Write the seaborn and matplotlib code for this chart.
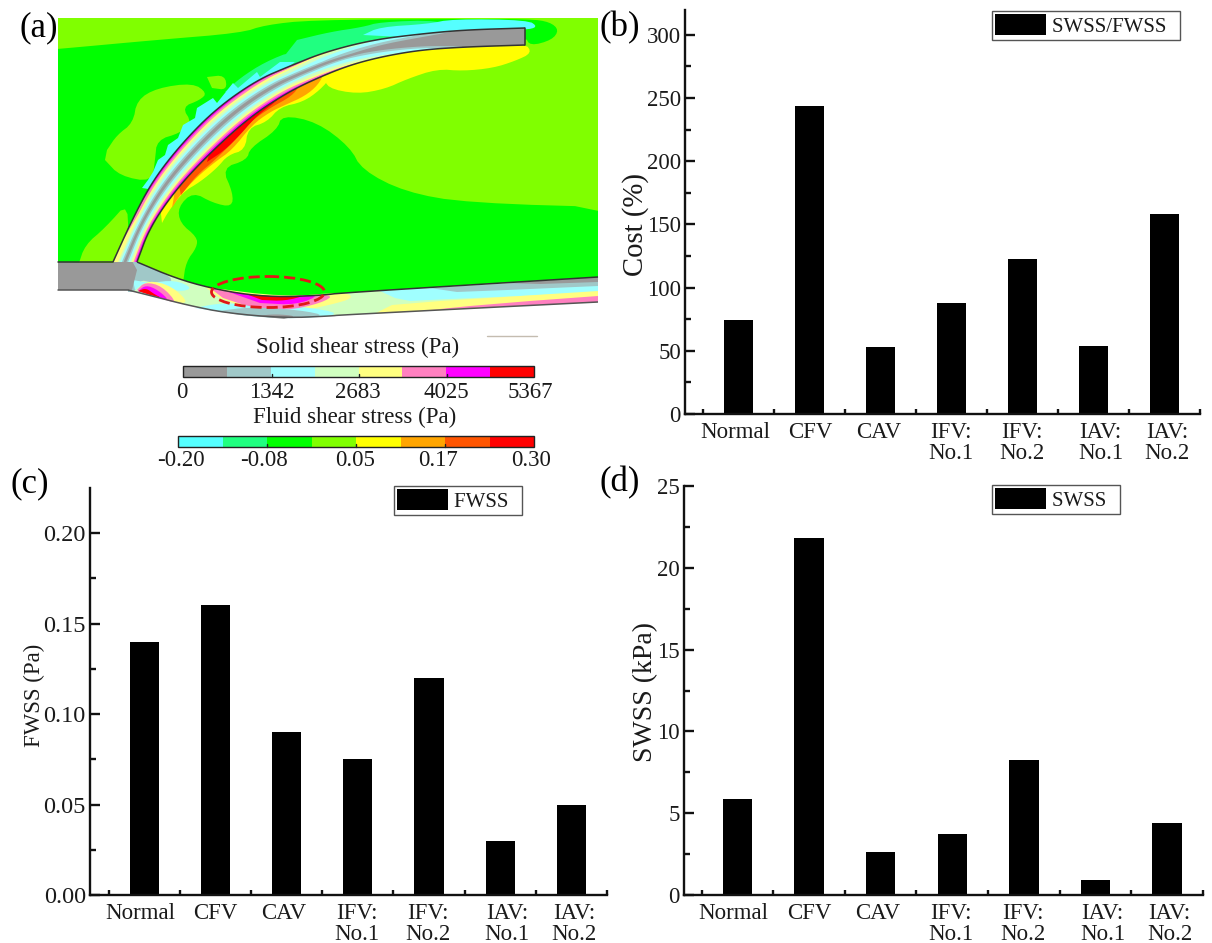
import numpy as np
import matplotlib
matplotlib.use("Agg")
import matplotlib.pyplot as plt
from matplotlib.patches import Polygon, Rectangle, Ellipse
from matplotlib.ticker import MultipleLocator, FormatStrFormatter
from matplotlib.transforms import ScaledTranslation
import seaborn as sns

# ---------- data ----------
categories = ["Normal", "CFV", "CAV", "IFV:\nNo.1", "IFV:\nNo.2", "IAV:\nNo.1", "IAV:\nNo.2"]
cost_values = [74, 244, 53, 88, 123, 54, 158]
fwss_values = [0.14, 0.16, 0.09, 0.075, 0.12, 0.03, 0.05]
swss_values = [5.85, 21.85, 2.65, 3.7, 8.25, 0.9, 4.4]
solid_colors = ["#999999", "#a0c8c8", "#a0ffff", "#d0ffc0", "#ffff80", "#ff80c0", "#ff00ff", "#ff0000"]
fluid_colors = ["#55ffff", "#20ff80", "#00ff00", "#80ff00", "#ffff00", "#ffa500", "#ff5500", "#ff0000"]
solid_labels = ["0", "1342", "2683", "4025", "5367"]
fluid_labels = ["-0.20", "-0.08", "0.05", "0.17", "0.30"]

W, H = 1212, 943
sns.set_theme(style="ticks")
plt.rcParams["font.family"] = ["Liberation Serif", "DejaVu Serif"]
plt.rcParams["text.color"] = "#1a1a1a"
fig = plt.figure(figsize=(W / 100, H / 100), dpi=100, facecolor="white")

over = fig.add_axes([0, 0, 1, 1], zorder=0)
over.set_xlim(0, W)
over.set_ylim(H, 0)
over.axis("off")

LIME, GREEN, SPRING, CYAN, YEL, ORG, DORG, RED = "#80ff00", "#00ff00", "#20ff80", "#55ffff", "#ffff00", "#ffa500", "#ff5500", "#ff0000"
GREY, TEAL, PCY, PGR, PYE, PNK, MAG = solid_colors[:7]


def smooth(pts, n=3):
    p = np.asarray(pts, float)
    for _ in range(n):
        q = 0.75 * p[:-1] + 0.25 * p[1:]
        r = 0.25 * p[:-1] + 0.75 * p[1:]
        m = np.empty((2 * len(q), 2))
        m[0::2], m[1::2] = q, r
        p = np.vstack([p[0], m, p[-1]])
    return p


field = Rectangle((58, 18), 540, 265, fc=LIME, ec="none", zorder=1)
over.add_patch(field)


def poly(pts, c, z=1, sm=True):
    p = smooth(pts, 2) if sm else np.asarray(pts, float)
    patch = Polygon(p, closed=True, fc=c, ec="none", zorder=z)
    over.add_patch(patch)
    if z < 7:
        patch.set_clip_path(Rectangle((58, 18), 540, 300, transform=over.transData))


# ---------- panel (a): flow field ----------
outer = smooth([(113, 262), (132, 220), (153, 180), (183, 142), (217, 108), (257, 80), (290, 66),
                (325, 52), (372, 40), (420, 34), (463, 30), (525, 28)])
inner = smooth([(137, 262), (150, 227), (177, 188), (213, 150), (250, 117), (285, 94), (313, 80),
                (347, 66), (380, 57), (420, 50), (463, 47), (525, 45)])
upper = smooth([(137, 262), (175, 278), (210, 288), (249, 295), (284, 297), (325, 295), (340, 293), (598, 277)], 2)
lower = smooth([(128, 290), (156, 297), (187, 305), (226, 313), (284, 318), (331, 316), (340, 315), (598, 302)], 2)

# fluid zones above and below the graft
poly([(20, 52), (58, 49), (156, 40), (241, 33), (265, 25), (311, 20), (450, 19), (530, 19), (550, 22), (559, 30),
      (552, 40), (530, 46), (525, 36), (420, 42), (325, 60), (257, 90), (217, 118), (183, 152), (153, 190),
      (125, 270), (20, 270)], GREEN, 2)
poly([(107, 150), (117, 135), (133, 123), (137, 100), (157, 88), (193, 83), (207, 93), (200, 100), (182, 107),
      (192, 123), (180, 133), (157, 140), (155, 160), (152, 182), (120, 176), (105, 160)], LIME, 3)
poly([(207, 77), (225, 75), (227, 90), (212, 88)], LIME, 3)
poly([(78, 266), (85, 245), (105, 228), (130, 200), (125, 266)], LIME, 3)
poly([(183, 283), (186, 262), (197, 247), (197, 237), (180, 223), (178, 207), (193, 192), (213, 203), (232, 207),
      (233, 193), (222, 168), (247, 160), (250, 148), (277, 130), (282, 115), (317, 122), (350, 147), (362, 170),
      (405, 192), (467, 203), (640, 208), (640, 300), (300, 300), (210, 296)], GREEN, 2)
# near-wall zones
poly([(297, 40), (330, 32), (363, 27), (380, 22), (440, 20), (470, 32), (330, 55), (290, 75), (275, 68)], SPRING, 3)
poly([(225, 92), (240, 78), (265, 62), (295, 50), (300, 70), (250, 95)], SPRING, 3)
poly([(142, 188), (148, 180), (153, 172), (158, 160), (165, 155), (168, 145), (178, 138), (183, 125), (195, 118),
      (197, 108), (213, 98), (217, 103), (233, 83), (238, 88), (257, 72), (260, 77), (280, 62), (295, 62),
      (257, 90), (217, 118), (183, 152), (155, 190)], CYAN, 4, sm=False)
poly([(363, 35), (380, 27), (427, 24), (453, 19), (528, 20), (538, 27), (525, 30), (420, 38)], CYAN, 4)
poly([(325, 76), (327, 88), (357, 94), (385, 89), (407, 79), (437, 69), (463, 71), (493, 68), (515, 61), (532, 53),
      (525, 43), (463, 45), (420, 48), (380, 55), (347, 64)], YEL, 3)
poly([(162, 223), (168, 212), (183, 192), (200, 182), (217, 168), (228, 155), (245, 150), (248, 128), (267, 122),
      (280, 107), (303, 102), (320, 90), (332, 76), (313, 70), (285, 85), (250, 107), (213, 140), (177, 178), (160, 205)], YEL, 3)
poly([(172, 208), (180, 195), (197, 177), (215, 162), (232, 150), (252, 125), (270, 112), (285, 105), (305, 96),
      (318, 85), (325, 72), (285, 85), (250, 107), (213, 140), (177, 178)], ORG, 4)
poly([(181, 195), (197, 175), (215, 160), (232, 143), (250, 122), (270, 108), (292, 96), (300, 85), (250, 107), (213, 140), (177, 178)], DORG, 5)
poly([(207, 162), (225, 150), (240, 135), (253, 120), (262, 112), (278, 100), (285, 88), (250, 107), (213, 140)], RED, 6)

# lower vessel
over.add_patch(Polygon(np.vstack([upper, lower[::-1]]), closed=True, fc=PGR, ec="none", zorder=7))
poly([(125, 255), (137, 262), (175, 278), (165, 285), (150, 282), (140, 280), (135, 292), (128, 292)], TEAL, 8)
poly([(133, 280), (150, 283), (175, 280), (193, 288), (180, 292), (160, 286), (145, 282), (135, 290)], PCY, 8)
poly([(138, 290), (148, 280), (172, 286), (190, 304), (170, 301)], PYE, 8)
poly([(137, 290), (145, 282), (162, 286), (178, 304), (160, 298)], PNK, 9)
poly([(138, 291), (146, 285), (158, 290), (170, 301), (155, 296)], MAG, 10)
poly([(138, 291), (146, 288), (154, 294), (162, 298), (150, 295)], RED, 11)
poly([(205, 287), (284, 297), (345, 292), (354, 298), (330, 305), (290, 313), (250, 309), (220, 298)], PYE, 8)
poly([(210, 288), (249, 295), (284, 297), (335, 294), (322, 303), (285, 311), (250, 307), (223, 298)], PNK, 9)
poly([(226, 291), (249, 295), (284, 297), (322, 294), (297, 305), (260, 303)], MAG, 10)
poly([(246, 294), (284, 297), (307, 295), (285, 301), (262, 300)], RED, 11)
poly([(195, 308), (220, 303), (250, 305), (300, 306), (345, 314), (300, 319), (250, 316)], PCY, 8)
poly([(218, 311), (250, 307), (300, 310), (328, 316), (284, 319), (240, 315)], TEAL, 9)
poly([(257, 316), (275, 314), (297, 316), (284, 319)], GREY, 10)
poly([(380, 291), (598, 279), (598, 292), (520, 296), (450, 299), (410, 301), (395, 298)], PCY, 8, sm=False)
poly([(430, 288), (598, 278), (598, 286), (507, 290), (457, 292)], TEAL, 9, sm=False)
poly([(507, 283), (598, 277), (598, 282), (540, 284)], GREY, 10, sm=False)
poly([(375, 313.5), (392, 305), (440, 301), (520, 296), (598, 291), (598, 302)], PYE, 9, sm=False)
poly([(430, 310), (470, 306), (530, 301), (598, 296), (598, 302)], PNK, 10, sm=False)
# inlet stump
poly([(58, 262), (113, 263), (118, 250), (126, 250), (137, 270), (132, 290), (58, 290)], GREY, 12, sm=False)

# graft layers, painted inwards from each wall
t = np.linspace(0, 1, len(outer))
over.add_patch(Polygon(np.vstack([outer, inner[::-1]]), closed=True, fc=GREY, ec="none", zorder=13))


def layer(f, t0, t1, c, z, side):
    s = (t >= t0) & (t <= t1)
    taper = np.clip(np.minimum((t[s] - t0) / 0.06, (t1 - t[s]) / 0.2), 0, 1) ** 0.7
    if t0 == 0:
        taper = np.clip((t1 - t[s]) / 0.2, 0, 1) ** 0.7
    wid = (f * taper)[:, None]
    if side == 0:
        a, b = outer[s], inner[s]
    else:
        a, b = inner[s], outer[s]
    edge = a + (b - a) * wid
    over.add_patch(Polygon(np.vstack([a, edge[::-1]]), closed=True, fc=c, ec="none", zorder=z))


layer(0.44, 0.0, 0.86, TEAL, 14, 0)
layer(0.37, 0.0, 0.80, PCY, 15, 0)
layer(0.29, 0.0, 0.72, PGR, 16, 0)
layer(0.21, 0.0, 0.66, PYE, 17, 0)
layer(0.14, 0.08, 0.62, PNK, 18, 0)
layer(0.07, 0.14, 0.58, MAG, 19, 0)
layer(0.44, 0.0, 0.88, TEAL, 14, 1)
layer(0.37, 0.0, 0.84, PCY, 15, 1)
layer(0.29, 0.0, 0.76, PGR, 16, 1)
layer(0.21, 0.0, 0.70, PYE, 17, 1)
layer(0.15, 0.0, 0.66, PNK, 18, 1)
layer(0.08, 0.0, 0.62, MAG, 19, 1)

# walls
for xy, c in [(outer, "#333333"), (inner, "#333333"), (upper, "#333333"), (lower, "#555555")]:
    over.plot(xy[:, 0], xy[:, 1], color=c, lw=1.1, zorder=25, solid_capstyle="butt")
over.plot([58, 113], [262, 262], color="#333333", lw=1.1, zorder=25)
over.plot([58, 128], [290, 290], color="#555555", lw=1.1, zorder=25)
over.plot([525, 525], [28, 45], color="#333333", lw=1.1, zorder=25)
over.plot([487, 537], [335.5, 335.5], color="#c4bcb0", lw=1, zorder=25)
over.add_patch(Ellipse((268, 292), 113, 31, fc="none", ec="#e01818", lw=2, ls=(0, (4, 1.8)), zorder=26))

# colour keys
def colorkey(x0, x1, y0, y1, colors, labels, label_x, label_y, title, title_x, title_y, ticks):
    dx = (x1 - x0) / len(colors)
    for i, c in enumerate(colors):
        over.add_patch(Rectangle((x0 + i * dx, y0), dx, y1 - y0, fc=c, ec="none", zorder=5))
    over.add_patch(Rectangle((x0, y0), x1 - x0, y1 - y0, fc="none", ec="#222222", lw=1, zorder=6))
    for tx in ticks:
        over.plot([tx, tx], [y1 - 3, y1], color="#222222", lw=1, zorder=6)
    for lab, lx in zip(labels, label_x):
        over.text(lx, label_y, lab, ha="center", va="center", fontsize=16.5, zorder=6)
    over.text(title_x, title_y, title, ha="center", va="center", fontsize=16.5, zorder=6)


colorkey(183, 534, 366, 377, solid_colors, solid_labels, [182, 272, 358, 446, 530], 392,
         "Solid shear stress (Pa)", 358, 347, [271.5, 359, 447])
colorkey(178, 534, 436, 447, fluid_colors, fluid_labels, [181, 264, 355, 438, 531], 461,
         "Fluid shear stress (Pa)", 355, 417, [267, 356, 445])

for s, x, y in [("(a)", 39, 28), ("(b)", 620, 28), ("(c)", 30, 484), ("(d)", 620, 483)]:
    over.text(x, y, s, ha="center", va="center", fontsize=25, color="black", zorder=30)


# ---------- bar panels ----------
label_shift = [-4, 0, -2.5, -1, -1, 7, 2.5]


def barpanel(left, right, top, bottom, xlim, ylim, values, name, major, minor, fmt, ylabel, ylab_size, ylab_xy, legend_xy, ysize=16.5):
    ax = fig.add_axes([left / W, 1 - bottom / H, (right - left) / W, (bottom - top) / H], zorder=2)
    ax.patch.set_alpha(0)
    sns.barplot(x=categories, y=values, color="black", saturation=1, width=0.41, ax=ax, label=name + "\u2002", linewidth=0)
    ax.set_xlim(*xlim)
    ax.set_ylim(*ylim)
    sns.despine(ax=ax)
    for sp in ("left", "bottom"):
        ax.spines[sp].set_linewidth(1.7)
        ax.spines[sp].set_color("#111111")
    ax.set_xticks(range(len(categories)))
    ax.set_xticklabels(categories, linespacing=0.95)
    ax.set_xticks(np.arange(-0.5, 7), minor=True)
    ax.tick_params(axis="x", which="major", length=0, pad=6, labelsize=16.5, labelcolor="#1a1a1a")
    ax.tick_params(axis="x", which="minor", length=3.8, width=1.7, direction="in", color="#111111")
    ax.yaxis.set_major_locator(MultipleLocator(major))
    ax.yaxis.set_minor_locator(MultipleLocator(minor))
    ax.yaxis.set_major_formatter(FormatStrFormatter(fmt))
    ax.tick_params(axis="y", which="major", length=7.5, width=1.7, direction="in", pad=3, labelsize=ysize, labelcolor="#1a1a1a", color="#111111")
    ax.tick_params(axis="y", which="minor", length=4, width=1.7, direction="in", color="#111111")
    for lab, dx in zip(ax.get_xticklabels(), label_shift):
        lab.set_transform(lab.get_transform() + ScaledTranslation(dx / 100, 0, fig.dpi_scale_trans))
    ax.set_ylabel(ylabel, fontsize=ylab_size, va="center", color="#1a1a1a")
    ax.yaxis.set_label_coords(ylab_xy[0], ylab_xy[1], transform=over.transData)
    leg = ax.legend(loc="upper left", bbox_to_anchor=legend_xy, bbox_transform=over.transData, borderaxespad=0,
                    frameon=True, fancybox=False, fontsize=15, handlelength=2.45, handleheight=1.15,
                    handletextpad=0.28, borderpad=0.16, labelcolor="#1a1a1a")
    leg.get_frame().set_edgecolor("#555555")
    leg.get_frame().set_linewidth(1)
    leg.get_frame().set_alpha(1)
    return ax


barpanel(685, 1200, 10, 414, (-0.76, 6.49), (0, 319.6), cost_values, "SWSS/FWSS", 50, 25, "%d",
         "Cost (%)", 20.7, (636, 225), (992, 11))
barpanel(90, 607, 488, 895, (-0.76, 6.45), (0, 0.2249), fwss_values, "FWSS", 0.05, 0.025, "%.2f",
         "FWSS (Pa)", 16.4, (34, 695), (394, 486), ysize=17.5)
barpanel(684, 1203, 486, 895, (-0.745, 6.49), (0, 25), swss_values, "SWSS", 5, 2.5, "%d",
         "SWSS (kPa)", 20, (646, 692), (992, 485))

fig.savefig("out.png", dpi=100, facecolor="white")
